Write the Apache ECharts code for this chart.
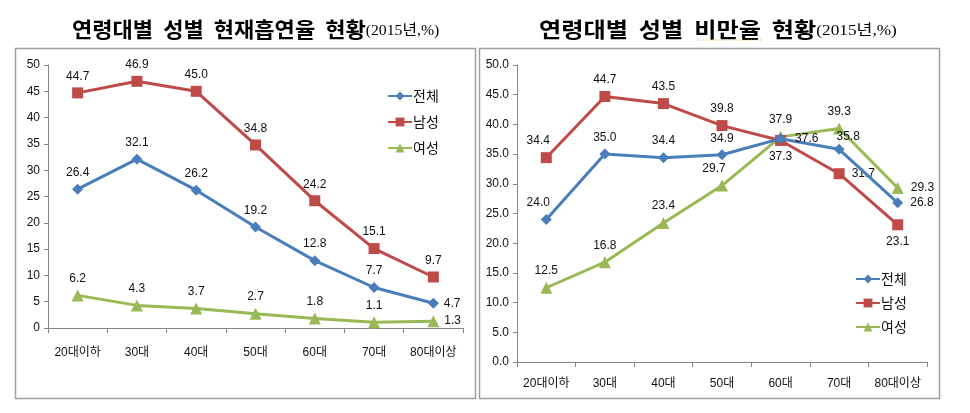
<!DOCTYPE html>
<html><head><meta charset="utf-8">
<script src="https://cdn.jsdelivr.net/npm/echarts@6/dist/echarts.min.js"></script>
<style>html,body{margin:0;padding:0;background:#fff}#c{width:970px;height:413px}</style>
</head><body><div id="c"></div>
<script>
const categories = ['20대이하','30대','40대','50대','60대','70대','80대이상'];
const seriesNames = ['전체','남성','여성'];
const yTicks = [0,5,10,15,20,25,30,35,40,45,50];
// 흡연율
const smokeTotal = [26.4, 32.1, 26.2, 19.2, 12.8, 7.7, 4.7];
const smokeMale  = [44.7, 46.9, 45.0, 34.8, 24.2, 15.1, 9.7];
const smokeFemale= [6.2, 4.3, 3.7, 2.7, 1.8, 1.1, 1.3];
// 비만율
const obeseTotal = [24.0, 35.0, 34.4, 34.9, 37.6, 35.8, 26.8];
const obeseMale  = [34.4, 44.7, 43.5, 39.8, 37.3, 31.7, 23.1];
const obeseFemale= [12.5, 16.8, 23.4, 29.7, 37.9, 39.3, 29.3];

const colors = ['#4A7EBB','#BE4B48','#98B954'];
const symbols = ['diamond','rect','triangle'];
const symSizes = [11,11,12];
const FONT = 'Liberation Sans, Noto Sans CJK KR, sans-serif';

// label placement overrides: [position, dx, dy]
const leftLbl = [
  {6:['right',0,0]},
  {},
  {6:['right',0,0]}
];
const rightLbl = [
  {0:['top',-8,0], 4:['right',4,0], 5:['top',9,4], 6:['right',2,0]},
  {0:['top',-8,0], 4:['bottom',0,0], 5:['right',2,0], 6:['bottom',0,0]},
  {3:['top',-8,0], 6:['right',2,0]}
];
const zOrder = [[3,4,5],[5,4,3]];

function mkData(vals, lbl){
  return vals.map((v,i)=>{
    const o = {value:v};
    if(lbl[i]){ o.label = {position:lbl[i][0], offset:[lbl[i][1],lbl[i][2]]}; }
    return o;
  });
}

const chart = echarts.init(document.getElementById('c'), null, {renderer:'canvas'});
const sets = [[smokeTotal,smokeMale,smokeFemale],[obeseTotal,obeseMale,obeseFemale]];
const lbls = [leftLbl, rightLbl];
const series = [];
sets.forEach((set,g)=>{
  set.forEach((vals,k)=>{
    series.push({
      name: seriesNames[k], type:'line', xAxisIndex:g, yAxisIndex:g,
      data: mkData(vals, lbls[g][k]),
      symbol: symbols[k], symbolSize: symSizes[k],
      lineStyle:{color:colors[k], width:3}, itemStyle:{color:colors[k]},
      label:{show:true, position:'top', distance:5, color:'#111', fontSize:12, fontFamily:FONT,
        formatter:p=>p.value.toFixed(1)},
      z: zOrder[g][k], animation:false
    });
  });
});

const axisLine = {lineStyle:{color:'#868686', width:1}};
function xAx(g){
  return {type:'category', gridIndex:g, data:categories, boundaryGap:true,
    axisLine:axisLine, axisTick:{show:true, length:5, lineStyle:{color:'#868686'}},
    axisLabel:{color:'#111', fontSize:12, fontFamily:FONT, margin: g===0?19:16, interval:0}};
}
function yAx(g){
  return {type:'value', gridIndex:g, min:yTicks[0], max:yTicks[yTicks.length-1], interval:yTicks[1]-yTicks[0],
    axisLine:{show:true, lineStyle:{color:'#868686'}}, axisTick:{show:true, length:4, lineStyle:{color:'#868686'}},
    splitLine:{show:false},
    axisLabel:{color:'#111', fontSize:12, fontFamily:FONT, margin:8,
      formatter: g===0 ? (v=>String(v)) : (v=>v.toFixed(1))}};
}
function legend(left, top, gap){
  return {orient:'vertical', left:left, top:top, itemGap:gap, itemWidth:24, itemHeight:11,
    data: seriesNames, selectedMode:false,
    textStyle:{color:'#111', fontSize:14, fontFamily:'Noto Sans CJK KR, sans-serif', padding:[0,0,0,-4]}};
}

const titleRich = {
  a:{fontSize:21, fontWeight:'bold', fontFamily:'Noto Sans CJK KR, serif', color:'#000'},
  b:{fontSize:15, fontFamily:'Liberation Serif, Noto Sans CJK KR, serif', color:'#000', padding:[4,0,0,0]}
};

chart.setOption({
  backgroundColor:'#fff',
  animation:false,
  grid:[
    {left:48, top:65, width:415, height:263, containLabel:false},
    {left:517, top:65, width:410, height:297, containLabel:false}
  ],
  xAxis:[xAx(0), xAx(1)],
  yAxis:[yAx(0), yAx(1)],
  legend:[legend(382, 84, 12), legend(850, 267, 10)],
  series: series,
  graphic:[
    {type:'rect', shape:{x:15.5, y:48.5, width:460, height:350}, style:{fill:null, stroke:'#A0A0A0', lineWidth:1.5}, z:0},
    {type:'rect', shape:{x:479.5, y:48.5, width:460, height:350}, style:{fill:null, stroke:'#A0A0A0', lineWidth:1.5}, z:0},
    {type:'text', x:72, y:29, scaleX:1.05, style:{text:'{a|연령대별  성별  현재흡연율  현황}{b|(2015년,%)}', rich:titleRich, verticalAlign:'middle', align:'left'}},
    {type:'text', x:539, y:29, scaleX:1.15, style:{text:'{a|연령대별  성별  비만율  현황}{b|(2015년,%)}', rich:titleRich, verticalAlign:'middle', align:'left'}},
    {type:'line', shape:{x1:697, y1:40, x2:763, y2:40}, style:{stroke:'#F0A030', lineWidth:1, lineDash:[1,2]}}
  ]
});
</script>
</body></html>
